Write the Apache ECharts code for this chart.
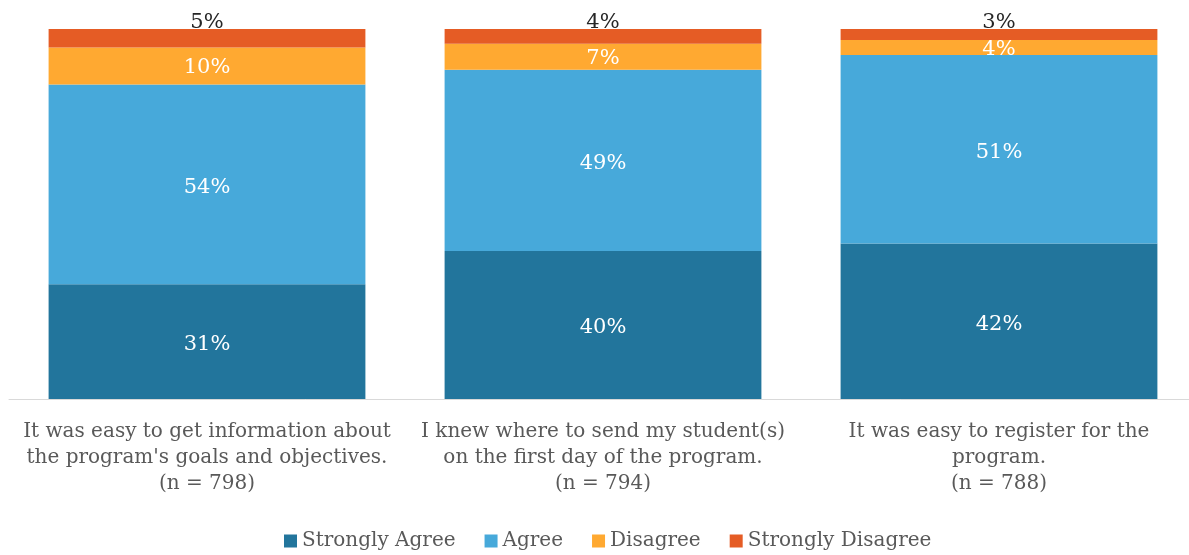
<!DOCTYPE html>
<html>
<head>
<meta charset="utf-8">
<script src="https://cdn.jsdelivr.net/npm/echarts@6/dist/echarts.min.js"></script>
<style>
  html, body { margin: 0; padding: 0; background: #ffffff; overflow: hidden; }
  /* canvas runs a few pixels past the right edge so the last band is full width */
  #chart { width: 1197px; height: 555px; }
</style>
</head>
<body>
<div id="chart"></div>
<script>
// Survey statements (with response counts) shown along the x axis
const categories = [
  "It was easy to get information about\nthe program's goals and objectives.\n(n = 798)",
  "I knew where to send my student(s)\non the first day of the program.\n(n = 794)",
  "It was easy to register for the\nprogram.\n(n = 788)"
];

// Percent of respondents per answer
const stronglyAgree    = [31, 40, 42];
const agree            = [54, 49, 51];
const disagree         = [10, 7, 4];
const stronglyDisagree = [5, 4, 3];

const seriesNames = ['Strongly Agree', 'Agree', 'Disagree', 'Strongly Disagree'];
const colors = ['#22759C', '#47A9DA', '#FFA931', '#E55C25'];

const FONT = '"DejaVu Serif", serif';

function makeSeries(name, values, color, labelOpts) {
  return {
    name: name,
    type: 'bar',
    stack: 'total',
    barCategoryGap: '20%',
    data: values,
    itemStyle: { color: color },
    label: Object.assign({
      show: true,
      formatter: '{c}%',
      fontFamily: FONT,
      fontSize: 21,
      color: '#ffffff'
    }, labelOpts || {}),
    emphasis: { disabled: true }
  };
}

const chart = echarts.init(document.getElementById('chart'), null, { renderer: 'canvas' });

chart.setOption({
  animation: false,
  backgroundColor: '#ffffff',
  grid: { left: 9, right: 0, top: 29, bottom: 156, containLabel: false },
  xAxis: {
    type: 'category',
    data: categories,
    axisLine: { lineStyle: { color: '#d9d9d9', width: 1 } },
    axisTick: { show: false },
    axisLabel: {
      interval: 0,
      margin: 20,
      fontFamily: FONT,
      fontSize: 20,
      lineHeight: 26,
      color: '#595959',
      align: 'center'
    }
  },
  yAxis: {
    type: 'value',
    min: 0,
    max: 100,
    show: false,
    splitLine: { show: false }
  },
  legend: {
    data: seriesNames,
    top: 531,
    left: 284,
    padding: 0,
    icon: 'rect',
    itemWidth: 13,
    itemHeight: 13,
    itemGap: 29,
    textStyle: { fontFamily: FONT, fontSize: 20, color: '#595959' }
  },
  series: [
    makeSeries(seriesNames[0], stronglyAgree, colors[0], { position: 'inside', offset: [0, 3] }),
    makeSeries(seriesNames[1], agree, colors[1], { position: 'inside', offset: [0, 3] }),
    makeSeries(seriesNames[2], disagree, colors[2], { position: 'inside', offset: [0, 2] }),
    makeSeries(seriesNames[3], stronglyDisagree, colors[3], { position: 'top', distance: -4, color: '#262626' })
  ]
});
</script>
</body>
</html>
